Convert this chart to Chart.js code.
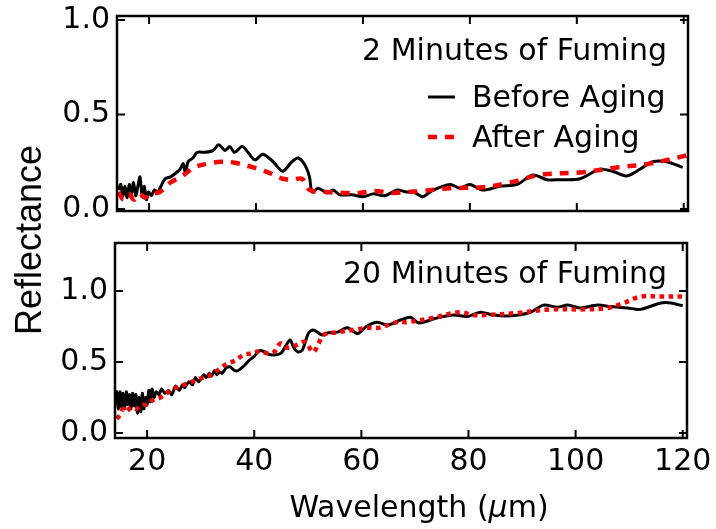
<!DOCTYPE html>
<html>
<head>
<meta charset="utf-8">
<script src="https://cdn.jsdelivr.net/npm/chart.js@4.4.0/dist/chart.umd.min.js"></script>
<style>
  html, body { margin: 0; padding: 0; background: #fff; }
  body { width: 716px; height: 529px; position: relative; overflow: hidden; font-family: "DejaVu Sans", sans-serif; }
  #topChart { position: absolute; left: 0; top: 0; }
  #bottomChart { position: absolute; left: 0; top: 230px; }
  .ytitle { position: absolute; left: 29px; top: 240px; transform: translate(-50%, -50%) rotate(-90deg);
            font-family: "Liberation Sans", Arial, sans-serif; font-size: 36px; white-space: nowrap; line-height: 1; color: #000; }
  .xtitle { position: absolute; left: 419px; top: 507px; transform: translate(-50%, -50%);
            font-size: 30px; white-space: nowrap; line-height: 1; color: #000; }
</style>
</head>
<body>
<canvas id="topChart" width="716" height="235"></canvas>
<canvas id="bottomChart" width="716" height="299"></canvas>
<div class="ytitle">Reflectance</div>
<div class="xtitle">Wavelength (<i>μ</i>m)</div>
<script>
// tick values
var xTicks = [20, 40, 60, 80, 100, 120];
var yTicks = [0, 0.5, 1.0];

// 2 minutes of fuming
var wl2Before = [14.3, 14.7, 15.1, 15.5, 15.9, 16.3, 16.7, 17.1, 17.5, 17.9, 18.3, 18.7, 19.1, 19.5, 19.9, 20.4, 21.0, 21.6, 22.2, 23.0,
  24.0, 25.0, 25.8, 26.4, 26.8, 27.3, 28.2, 29.0, 30.5, 32.0, 33.0, 34.2, 35.1, 36.0, 37.4, 38.5, 39.8, 41.3, 43.2, 45.0,
  46.7, 47.9, 49.2, 50.0, 50.5, 51.6, 53.3, 54.4, 55.7, 58.0, 60.0, 61.9, 64.1, 66.4, 68.2, 69.5, 71.2, 73.1, 76.3, 78.1,
  80.0, 82.4, 85.6, 88.8, 91.8, 94.4, 96.8, 100.6, 104.3, 106.7, 109.3, 111.8, 114.2, 116.8, 119.8];
var refl2Before = [0.10, 0.13, 0.07, 0.12, 0.06, 0.13, 0.08, 0.14, 0.07, 0.12, 0.17, 0.07, 0.12, 0.05, 0.09, 0.07, 0.10, 0.09, 0.12, 0.16,
  0.17, 0.19, 0.21, 0.24, 0.19, 0.25, 0.27, 0.30, 0.30, 0.31, 0.34, 0.31, 0.33, 0.30, 0.33, 0.30, 0.26, 0.29, 0.25, 0.20,
  0.25, 0.27, 0.23, 0.17, 0.09, 0.11, 0.085, 0.10, 0.075, 0.075, 0.065, 0.08, 0.07, 0.10, 0.09, 0.09, 0.065, 0.10, 0.13, 0.11,
  0.13, 0.10, 0.12, 0.13, 0.18, 0.155, 0.155, 0.16, 0.21, 0.20, 0.175, 0.21, 0.25, 0.25, 0.22];
var wl2After = [14.3, 15.2, 16.2, 17.2, 18.2, 19.2, 20.2, 22.0, 24.0, 26.5, 28.4, 31.0, 33.5, 36.0, 39.5, 42.6, 45.0, 46.9, 48.6, 50.1,
  53.3, 56.3, 59.4, 62.2, 65.6, 68.2, 71.0, 76.3, 82.4, 87.5, 93.1, 101.1, 107.5, 113.6, 120.8];
var refl2After = [0.09, 0.05, 0.08, 0.05, 0.08, 0.06, 0.08, 0.09, 0.14, 0.18, 0.22, 0.24, 0.25, 0.245, 0.22, 0.19, 0.16, 0.155, 0.16, 0.10,
  0.09, 0.085, 0.085, 0.095, 0.085, 0.09, 0.095, 0.11, 0.115, 0.14, 0.18, 0.195, 0.22, 0.24, 0.285];

// 20 minutes of fuming
var wl20Before = [14.3, 14.6, 14.9, 15.2, 15.5, 15.8, 16.1, 16.4, 16.7, 17.0, 17.3, 17.6, 17.9, 18.2, 18.5, 18.8, 19.1, 19.4, 19.7, 20.0,
  20.3, 20.6, 20.9, 21.3, 21.7, 22.2, 22.7, 23.3, 24.0, 24.6, 25.3, 26.0, 26.6, 27.0, 27.8, 28.5, 29.0, 29.6, 30.0, 30.6,
  31.0, 31.6, 32.0, 32.6, 33.0, 33.5, 34.0, 34.8, 35.5, 36.3, 37.0, 38.0, 39.0, 40.0, 41.0, 42.0, 43.0, 44.9, 46.0, 46.7,
  47.4, 48.2, 49.0, 50.1, 51.0, 52.7, 53.8, 55.5, 57.4, 59.3, 61.1, 63.0, 64.9, 67.3, 69.2, 70.7, 74.2, 77.2, 79.8, 82.2,
  84.7, 87.9, 91.6, 94.0, 96.6, 98.5, 100.9, 104.1, 106.5, 109.7, 112.1, 115.9, 117.8, 120.0];
var refl20Before = [0.30, 0.17, 0.29, 0.18, 0.28, 0.17, 0.29, 0.20, 0.27, 0.17, 0.28, 0.19, 0.27, 0.14, 0.25, 0.15, 0.28, 0.17, 0.25, 0.20,
  0.30, 0.22, 0.31, 0.25, 0.29, 0.27, 0.31, 0.28, 0.30, 0.27, 0.33, 0.30, 0.34, 0.32, 0.36, 0.34, 0.39, 0.36, 0.38, 0.41,
  0.39, 0.42, 0.40, 0.44, 0.41, 0.43, 0.42, 0.46, 0.465, 0.44, 0.44, 0.47, 0.51, 0.54, 0.58, 0.57, 0.55, 0.56, 0.62, 0.655,
  0.60, 0.57, 0.585, 0.70, 0.725, 0.69, 0.705, 0.71, 0.74, 0.70, 0.755, 0.78, 0.76, 0.795, 0.815, 0.775, 0.81, 0.83, 0.82, 0.85,
  0.83, 0.825, 0.85, 0.90, 0.885, 0.90, 0.88, 0.90, 0.89, 0.88, 0.87, 0.915, 0.915, 0.895];
var wl20After = [14.3, 15.0, 15.5, 16.0, 17.0, 18.0, 19.0, 20.0, 21.0, 22.5, 24.0, 25.5, 27.0, 29.0, 30.5, 32.0, 33.5, 35.0, 36.5, 38.0,
  39.5, 41.0, 42.5, 43.7, 44.9, 46.2, 48.0, 49.5, 51.0, 52.0, 52.9, 55.7, 59.3, 61.3, 63.2, 66.7, 68.5, 73.4, 78.3, 80.8,
  83.4, 89.1, 95.3, 101.5, 106.0, 109.0, 112.1, 115.9, 120.8];
var refl20After = [0.10, 0.13, 0.17, 0.15, 0.18, 0.17, 0.20, 0.20, 0.23, 0.25, 0.29, 0.32, 0.34, 0.37, 0.39, 0.41, 0.45, 0.49, 0.51, 0.55,
  0.56, 0.575, 0.56, 0.57, 0.63, 0.60, 0.62, 0.64, 0.57, 0.63, 0.69, 0.71, 0.73, 0.74, 0.74, 0.78, 0.78, 0.81, 0.85, 0.83,
  0.83, 0.845, 0.87, 0.87, 0.88, 0.915, 0.96, 0.96, 0.96];

var FONT = '"DejaVu Sans", sans-serif';

function pts(xs, ys) {
  return xs.map(function (x, i) { return { x: x, y: ys[i] }; });
}

// frame + inward ticks on all four sides
var framePlugin = {
  id: 'frame',
  afterDatasetsDraw: function (chart) {
    var ctx = chart.ctx, a = chart.chartArea, x = chart.scales.x, y = chart.scales.y;
    ctx.save();
    ctx.strokeStyle = '#000';
    ctx.lineWidth = 2;
    ctx.beginPath();
    xTicks.forEach(function (v) {
      var px = x.getPixelForValue(v);
      ctx.moveTo(px, a.bottom); ctx.lineTo(px, a.bottom - 8);
      ctx.moveTo(px, a.top); ctx.lineTo(px, a.top + 8);
    });
    yTicks.forEach(function (v) {
      var py = y.getPixelForValue(v);
      ctx.moveTo(a.left, py); ctx.lineTo(a.left + 8, py);
      ctx.moveTo(a.right, py); ctx.lineTo(a.right - 8, py);
    });
    ctx.stroke();
    ctx.lineWidth = 2.5;
    ctx.strokeRect(a.left, a.top, a.right - a.left, a.bottom - a.top);
    ctx.restore();
  }
};

// panel caption and (optional) legend
function notesPlugin(caption, captionY, legend) {
  return {
    id: 'notes',
    afterDraw: function (chart) {
      var ctx = chart.ctx;
      ctx.save();
      ctx.fillStyle = '#000';
      ctx.font = '30px ' + FONT;
      ctx.textBaseline = 'alphabetic';
      ctx.textAlign = 'right';
      ctx.fillText(caption, 667, captionY);
      if (legend) {
        ctx.textAlign = 'left';
        var rows = [[1, 97], [0, 137]];
        rows.forEach(function (r) {
          var ds = chart.data.datasets[r[0]];
          ctx.beginPath();
          ctx.strokeStyle = ds.borderColor;
          ctx.lineWidth = ds.borderWidth;
          ctx.setLineDash(ds.borderDash || []);
          ctx.moveTo(428, r[1]); ctx.lineTo(455, r[1]);
          ctx.stroke();
          ctx.setLineDash([]);
          ctx.fillText(ds.label, 472, r[1] + 10);
        });
      }
      ctx.restore();
    }
  };
}

function makeChart(id, before, after, afterDash, yMin, yMax, showX, xHeight, padTop, padRight, yWidth, notes) {
  return new Chart(document.getElementById(id), {
    type: 'line',
    data: {
      datasets: [
        { label: 'After Aging', data: after, borderColor: '#ff0000', borderWidth: 4.5, borderDash: afterDash,
          pointRadius: 0, tension: 0.35, fill: false },
        { label: 'Before Aging', data: before, borderColor: '#000000', borderWidth: 3,
          pointRadius: 0, tension: 0.3, fill: false }
      ]
    },
    options: {
      responsive: false,
      animation: false,
      layout: { padding: { left: 0, top: padTop, right: padRight, bottom: 0 } },
      plugins: { legend: { display: false }, tooltip: { enabled: false } },
      scales: {
        x: {
          type: 'linear', min: 14, max: 120.8,
          afterBuildTicks: function (s) { s.ticks = xTicks.map(function (v) { return { value: v }; }); },
          afterFit: function (s) { s.height = xHeight; s.paddingLeft = 0; s.paddingRight = 0; },
          grid: { display: false, drawTicks: false },
          border: { display: false },
          ticks: { display: showX, color: '#000', padding: 6, maxRotation: 0, autoSkip: false,
                   font: { family: FONT, size: 30 }, callback: function (v) { return String(v); } }
        },
        y: {
          type: 'linear', min: yMin, max: yMax,
          afterBuildTicks: function (s) { s.ticks = yTicks.map(function (v) { return { value: v }; }); },
          afterFit: function (s) { s.width = yWidth; s.paddingTop = 0; s.paddingBottom = 0; },
          grid: { display: false, drawTicks: false },
          border: { display: false },
          ticks: { color: '#000', padding: 7, font: { family: FONT, size: 30 },
                   callback: function (v) { return v.toFixed(1); } }
        }
      }
    },
    plugins: [framePlugin, notes]
  });
}

makeChart('topChart', pts(wl2Before, refl2Before), pts(wl2After, refl2After), [9, 8],
  -0.0106, 1.021, false, 24, 16, 28, 117, notesPlugin('2 Minutes of Fuming', 60, true));

makeChart('bottomChart', pts(wl20Before, refl20Before), pts(wl20After, refl20After), [4.5, 4.5],
  -0.035, 1.337, true, 91, 13, 29, 115, notesPlugin('20 Minutes of Fuming', 53, false));
</script>
</body>
</html>
